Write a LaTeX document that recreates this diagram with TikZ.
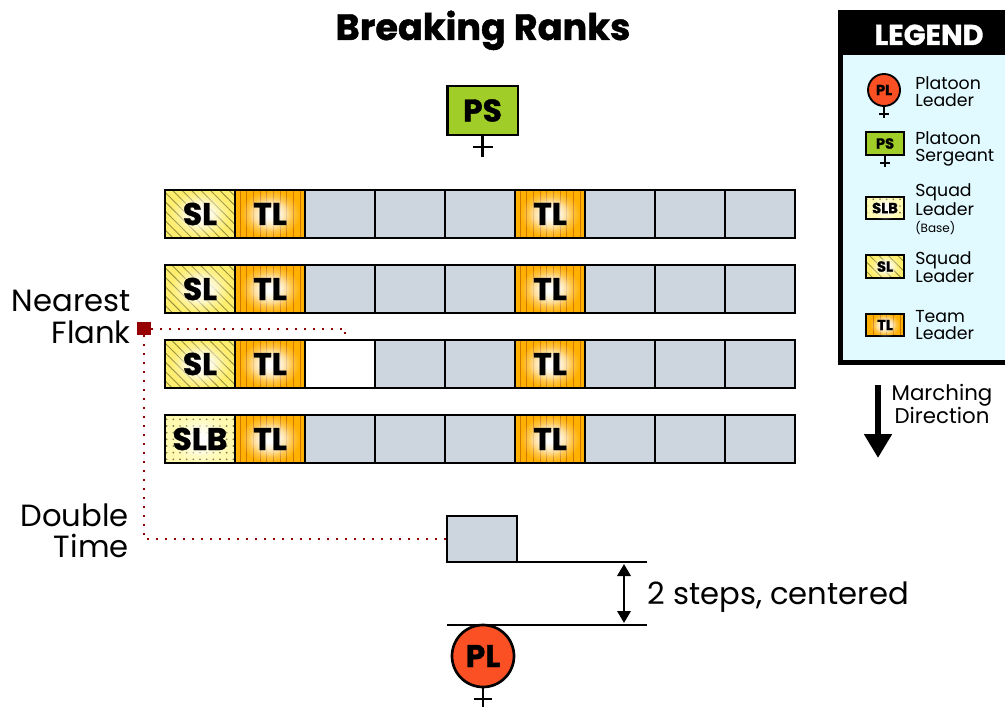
\documentclass[tikz,border=0pt]{standalone}
\usepackage{fontspec}
\setmainfont{Poppins}
\newfontfamily\heavyfont[FakeBold=1.2]{Poppins Bold}
\usepackage{tikz}
\usetikzlibrary{patterns.meta}
\usetikzlibrary{arrows.meta}
\usetikzlibrary{fadings}
\definecolor{cellgrey}{RGB}{205,214,223}
\definecolor{slyellow}{RGB}{255,238,110}
\definecolor{slhatch}{RGB}{150,145,60}
\definecolor{slbyellow}{RGB}{255,250,175}
\definecolor{slbdot}{RGB}{120,120,70}
\definecolor{tlorange}{RGB}{255,176,0}
\definecolor{tlline}{RGB}{205,120,0}
\definecolor{psgreen}{RGB}{160,205,40}
\definecolor{plred}{RGB}{250,80,35}
\definecolor{legendbg}{RGB}{225,250,255}
\definecolor{flankred}{RGB}{150,0,0}
\newcommand{\titlefont}{\heavyfont\fontsize{27.5}{27.5}\selectfont}
\newcommand{\rankfont}{\heavyfont\fontsize{23.5}{23.5}\selectfont}
\newcommand{\iconfont}{\heavyfont\fontsize{11}{11}\selectfont}
\newcommand{\notefont}{\fontsize{23}{23.5}\selectfont}
\newcommand{\legendfont}{\fontsize{13}{12.75}\selectfont}
\tikzfading[name=halo, inner color=transparent!0, outer color=transparent!100]
\tikzstyle{post}=[draw, line width=2pt, inner sep=0, outer sep=0, minimum width=52.5pt, minimum height=36pt]
\tikzstyle{cell}=[post, fill=cellgrey]
\tikzstyle{blank}=[post, fill=white]
\tikzstyle{slcell}=[post, preaction={fill=slyellow}, pattern={Lines[angle=-45, distance=5pt, line width=0.7pt]}, pattern color=slhatch]
\tikzstyle{slbcell}=[post, preaction={fill=slbyellow}, pattern={Dots[distance=5pt, radius=0.7pt]}, pattern color=slbdot]
\tikzstyle{tlcell}=[post, preaction={fill=tlorange}, pattern={Lines[angle=90, distance=5pt, line width=0.7pt]}, pattern color=tlline]
\tikzstyle{icon}=[minimum width=28.5pt, minimum height=17pt, line width=1.4pt]
\tikzstyle{psbox}=[draw, line width=2pt, fill=psgreen, inner sep=0, outer sep=0, minimum width=53pt, minimum height=36.75pt, font=\rankfont]
\tikzstyle{plcircle}=[circle, draw, line width=2pt, fill=plred, inner sep=0, outer sep=0, minimum size=46.5pt, font=\rankfont]
\tikzstyle{stemline}=[line width=1.8pt]
\tikzstyle{groundline}=[line width=2.2pt]
\tikzstyle{flankline}=[flankred, line width=1.5pt, dash pattern=on 1.5pt off 5.25pt]
\tikzstyle{note}=[inner sep=0, font=\notefont, align=right]
\tikzstyle{legendtext}=[inner sep=0, font=\legendfont, align=left, anchor=west]
% soft white glow behind a label, then the label
\newcommand{\glowlabel}[5][1]{%
  \fill[white, path fading=halo] (#3) ellipse [x radius={30*#1}, y radius={24*#1}];
  \fill[white, path fading=halo] (#3) ellipse [x radius={22*#1}, y radius={17*#1}];
  \node[inner sep=0, font=#4] (#2) at (#3) {#5};}
% stem with a cross bar under a leader
\newcommand{\stemcross}[4]{%
  \draw[stemline] (#1.south) -- ++(0,#2) ++(-#4,-#3) -- ++({2*#4},0);}
\begin{document}
\begin{tikzpicture}[x=0.75pt, y=-0.75pt]
    \useasboundingbox (0,0) rectangle (1005,706);
    \node[font=\titlefont, inner sep=0, anchor=base] (title) at (483,40) {Breaking Ranks};

    % platoon sergeant
    \node[psbox] (ps) at (482.5,110.5) {PS};
    \stemcross{ps}{22}{10}{10}

    % four ranks of nine
    \foreach \r in {1,...,4}
        \foreach \c in {1,...,9}
            \node[cell] (r\r c\c) at ({130+70*\c},{139+75*\r}) {};
    \foreach \r in {1,2,3} {
        \node[slcell] (sl\r) at (r\r c1) {};
        \glowlabel{sl\r-lbl}{sl\r}{\rankfont}{SL}
    }
    \node[slbcell] (slb) at (r4c1) {};
    \glowlabel{slb-lbl}{slb}{\rankfont}{SLB}
    \foreach \r in {1,...,4}
        \foreach \c in {2,6} {
            \node[tlcell] (tl\r\c) at (r\r c\c) {};
            \glowlabel{tl\r\c-lbl}{tl\r\c}{\rankfont}{TL}
        }
    \node[blank] (gap) at (r3c3) {};

    % nearest flank and double time
    \node[note, anchor=east] (nearest) at (131,317) {Nearest\\Flank};
    \node[fill=flankred, inner sep=0, minimum size=10pt] (flank) at (144,328.5) {};
    \node[cell, minimum height=34.5pt] (dt) at (482,539) {};
    \node[note, anchor=east] (double) at (129,531) {Double\\Time};
    \coordinate (flankturn) at (345,328.5);
    \coordinate (flankend) at (345,334);
    \draw[flankline] (flank.east) -- (flankturn) -- (flankend);
    \draw[flankline] (flank.south) |- (dt.west);

    % platoon leader two steps behind
    \node[plcircle] (pl) at (483,656) {PL};
    \stemcross{pl}{24}{12}{9}
    \coordinate (stepA) at (647,562);
    \coordinate (stepB) at (647,625);
    \draw[groundline] (dt.south west) -- (stepA);
    \draw[groundline] (pl.north -| dt.west) -- (stepB);
    \coordinate (steptop) at (624,564);
    \coordinate (stepbot) at (624,623);
    \draw[line width=1.8pt, {Triangle[width=10pt,length=9pt]}-{Triangle[width=10pt,length=9pt]}] (steptop) -- (stepbot);
    \node[inner sep=0, font=\notefont, anchor=base west] (steps) at (647,604) {2 steps, centered};

    % legend
    \fill[black] (838,10) rectangle (1012,365);
    \fill[legendbg] (843,55) rectangle (1012,360);
    \node[inner sep=0, text=white, font=\heavyfont\fontsize{21.5}{21.5}\selectfont, anchor=base] (legend) at (929,45) {LEGEND};
    \node[plcircle, minimum size=24pt, line width=1.4pt, font=\iconfont] (legpl) at (884,90) {PL};
    \stemcross{legpl}{12}{4}{5}
    \node[legendtext] (legpltext) at (915,92) {Platoon\\Leader};
    \node[psbox, icon, font=\iconfont] (legps) at (885,143.5) {PS};
    \stemcross{legps}{12}{4}{5}
    \node[legendtext] (legpstext) at (915,149) {Platoon\\Sergeant};
    \node[slbcell, icon] (legslb) at (885,208) {};
    \glowlabel[0.5]{legslb-lbl}{legslb}{\iconfont}{SLB}
    \node[legendtext] (legslbtext) at (915,209) {Squad\\Leader\\{\fontsize{9}{10}\selectfont(Base)}};
    \node[slcell, icon] (legsl) at (885,266.5) {};
    \glowlabel[0.5]{legsl-lbl}{legsl}{\iconfont}{SL}
    \node[legendtext] (legsltext) at (915,267) {Squad\\Leader};
    \node[tlcell, icon] (legtl) at (885,325) {};
    \glowlabel[0.5]{legtl-lbl}{legtl}{\iconfont}{TL}
    \node[legendtext] (legtltext) at (915,325) {Team\\Leader};

    % marching direction
    \coordinate (marchfrom) at (878,385);
    \coordinate (marchto) at (878,458);
    \draw[line width=4.5pt, -{Triangle[width=20pt,length=18pt]}] (marchfrom) -- (marchto);
    \node[inner sep=0, font=\fontsize{16}{15}\selectfont, align=center] (march) at (942,404) {Marching\\Direction};
\end{tikzpicture}
\end{document}
